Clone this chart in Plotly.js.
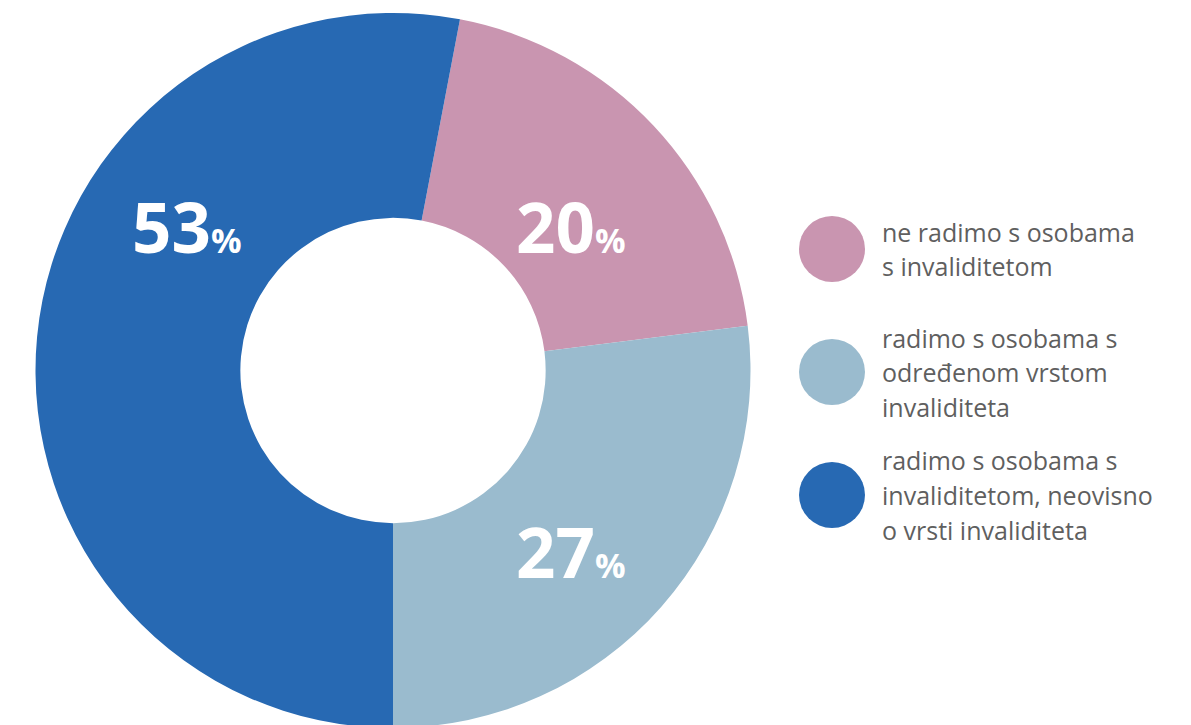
<!DOCTYPE html>
<html>
<head>
<meta charset="utf-8">
<script src="https://cdn.plot.ly/plotly-3.0.1.min.js"></script>
<style>
html,body{margin:0;padding:0;overflow:hidden;background:#fff;}
#chart{width:1191px;height:740px;}
</style>
</head>
<body>
<div id="chart"></div>
<script>
// ---- data ----
var categories = [
  "ne radimo s osobama s invaliditetom",
  "radimo s osobama s određenom vrstom invaliditeta",
  "radimo s osobama s invaliditetom, neovisno o vrsti invaliditeta"
];
var legendLines = [
  ["ne radimo s osobama", "s invaliditetom"],
  ["radimo s osobama s", "određenom vrstom", "invaliditeta"],
  ["radimo s osobama s", "invaliditetom, neovisno", "o vrsti invaliditeta"]
];
var values = [20, 27, 53];
var colors = ["#C995B0", "#9ABBCE", "#2769B3"];

// ---- layout helpers (pixel -> paper) ----
var W = 1191, H = 740, MT = 13, MB = 12;
var plotH = H - MT - MB;
function px(x){ return x / W; }
function py(y){ return (H - MB - y) / plotH; }

// label anchor positions (pixels) for value labels
var labelPx = [[571, 226], [571, 551], [187, 226]];
// legend positions (pixels)
var legendCircleX = 832, legendTextX = 880;
var legendCenterY = [249, 372, 495];
var lineGap = 34.5;

var annotations = [];
values.forEach(function(v, i){
  annotations.push({
    xref: 'paper', yref: 'paper',
    x: px(labelPx[i][0]), y: py(labelPx[i][1]),
    xanchor: 'center', yanchor: 'middle',
    showarrow: false,
    text: '<b>' + v + '<span style="font-size:34px">%</span></b>',
    font: {family: 'Open Sans, sans-serif', size: 69, color: '#ffffff'}
  });
});

var shapes = [];
legendLines.forEach(function(lines, i){
  shapes.push({
    type: 'circle', xref: 'paper', yref: 'paper',
    xsizemode: 'pixel', ysizemode: 'pixel',
    xanchor: px(legendCircleX), yanchor: py(legendCenterY[i]),
    x0: -33, x1: 33, y0: -33, y1: 33,
    fillcolor: colors[i], line: {width: 0}
  });
  var n = lines.length;
  lines.forEach(function(t, j){
    var yc = legendCenterY[i] + (j - (n - 1) / 2) * lineGap;
    annotations.push({
      xref: 'paper', yref: 'paper',
      x: px(legendTextX), y: py(yc),
      xanchor: 'left', yanchor: 'middle',
      showarrow: false, align: 'left',
      text: t,
      font: {family: 'Open Sans, sans-serif', size: 25, color: '#5f5f5f'}
    });
  });
});

var data = [{
  type: 'pie',
  labels: categories,
  values: values,
  marker: {colors: colors, line: {width: 0}},
  hole: 0.427,
  sort: false,
  direction: 'clockwise',
  rotation: 10.8,
  textinfo: 'none',
  hoverinfo: 'label+percent',
  showlegend: false,
  domain: {x: [px(35.5), px(750.5)], y: [0, 1]}
}];

var layout = {
  width: W, height: H,
  margin: {l: 0, r: 0, t: MT, b: MB, pad: 0},
  paper_bgcolor: '#ffffff',
  showlegend: false,
  annotations: annotations,
  shapes: shapes
};

Plotly.newPlot('chart', data, layout, {displayModeBar: false, staticPlot: true});
</script>
</body>
</html>
